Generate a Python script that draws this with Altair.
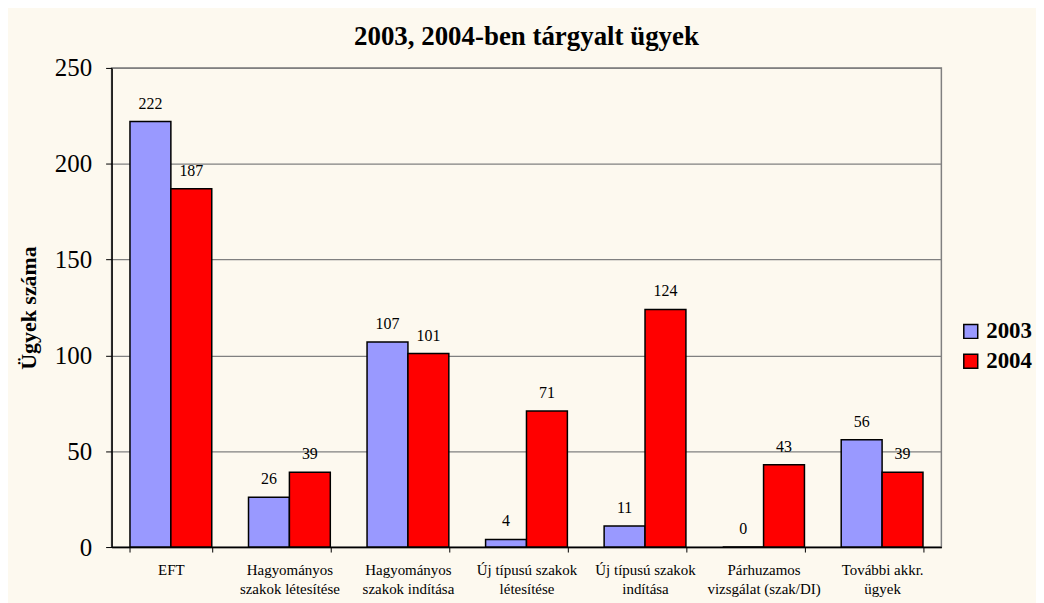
import altair as alt
import pandas as pd

categories = [
    "EFT",
    "Hagyományos\nszakok létesítése",
    "Hagyományos\nszakok indítása",
    "Új típusú szakok\nlétesítése",
    "Új típusú szakok\nindítása",
    "Párhuzamos\nvizsgálat (szak/DI)",
    "További akkr.\nügyek",
]
values_2003 = [222, 26, 107, 4, 11, 0, 56]
values_2004 = [187, 39, 101, 71, 124, 43, 39]
series = ["2003", "2004"]
colors = ["#9999FF", "#FF0000"]

rows = []
for c, a, b in zip(categories, values_2003, values_2004):
    rows.append({"cat": c, "year": "2003", "val": a})
    rows.append({"cat": c, "year": "2004", "val": b})
df = pd.DataFrame(rows)

FONT = "Liberation Serif"
BG = "#FDF9EF"

x = alt.X("cat:N", sort=categories, title=None,
          scale=alt.Scale(paddingInner=0.31, paddingOuter=0.155),
          axis=alt.Axis(labelExpr="split(datum.label, '\\n')", labelAngle=0,
                        labelFont=FONT, labelFontSize=15, labelColor="#000",
                        labelPadding=11, labelLineHeight=19,
                        tickBand="extent", tickColor="#000", tickSize=5,
                        domainColor="#000", domainWidth=1.5, grid=False))
xo = alt.XOffset("year:N", sort=series, scale=alt.Scale(paddingInner=0, paddingOuter=0))
y = alt.Y("val:Q", title="Ügyek száma",
          scale=alt.Scale(domain=[0, 250], nice=False),
          axis=alt.Axis(values=[0, 50, 100, 150, 200, 250], labelFont=FONT,
                        labelFontSize=25, labelColor="#000", labelPadding=14,
                        tickColor="#000", tickSize=6, domainColor="#000",
                        domainWidth=1.5, gridColor="#808080", gridWidth=1.2,
                        titleFont=FONT, titleFontSize=22, titleFontWeight="bold",
                        titleColor="#000", titlePadding=14))

bars = alt.Chart(df).mark_bar(stroke="#000", strokeWidth=1.5).encode(
    x=x, xOffset=xo, y=y,
    color=alt.Color("year:N", sort=series, title=None,
                    scale=alt.Scale(domain=series, range=colors),
                    legend=alt.Legend(orient="none", legendX=851, legendY=253,
                                      symbolType="square", symbolSize=196,
                                      symbolStrokeColor="#000", symbolStrokeWidth=1.5,
                                      labelFont=FONT, labelFontSize=23,
                                      labelFontWeight="bold", labelColor="#000",
                                      rowPadding=6, labelOffset=4)),
)

labels = alt.Chart(df).mark_text(font=FONT, fontSize=16, color="#000",
                                 baseline="middle", dy=-18).encode(
    x=alt.X("cat:N", sort=categories),
    xOffset=alt.XOffset("year:N", sort=series),
    y=alt.Y("val:Q"),
    text=alt.Text("val:Q"),
)

chart = (bars + labels).properties(
    width=833, height=481,
    autosize=alt.AutoSizeParams(type="none"),
    padding={"left": 104, "top": 59, "right": 95, "bottom": 56},
    background=BG,
    title=alt.Title("2003, 2004-ben tárgyalt ügyek", font=FONT, fontSize=27,
                    fontWeight="bold", color="#000", offset=5),
).configure_view(stroke="#808080", strokeWidth=1.5, fill=BG)

chart.save("out.html", embed_options={"renderer": "svg", "actions": False})
